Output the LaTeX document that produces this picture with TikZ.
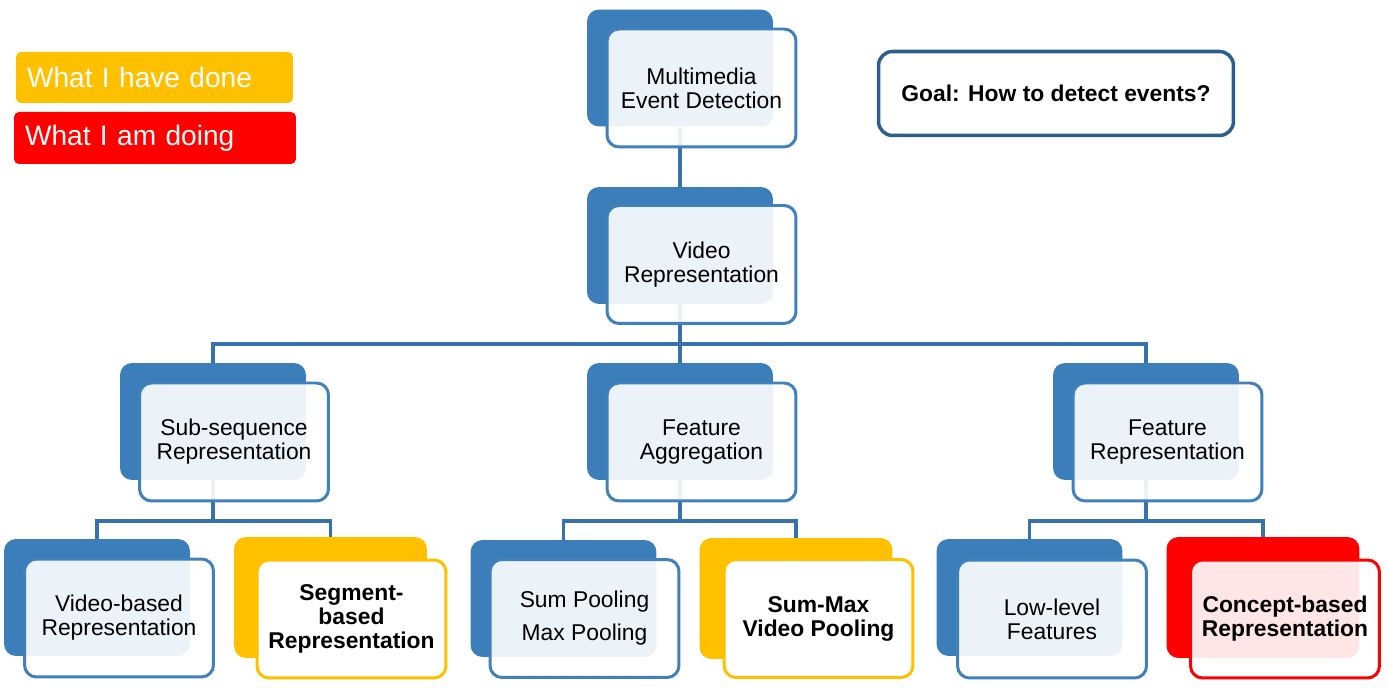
\documentclass[tikz,border=0pt]{standalone}
\usepackage{fontspec}
\setmainfont{Liberation Sans}
\usetikzlibrary{backgrounds}

\definecolor{boxblue}{RGB}{60,126,186}
\definecolor{edgeblue}{RGB}{64,128,187}
\definecolor{linkblue}{RGB}{56,114,170}
\definecolor{goalblue}{RGB}{46,95,140}
\definecolor{doneorange}{RGB}{255,192,0}
\definecolor{doingred}{RGB}{255,0,0}

\tikzset{
  backbox/.style={fill=boxblue, rounded corners=0.24cm, minimum width=3.72cm, minimum height=2.34cm},
  backwide/.style={rounded corners=0.24cm, minimum width=3.86cm, minimum height=2.42cm},
  frontbox/.style={draw=edgeblue, line width=1.7pt, fill=white, fill opacity=0.9, text opacity=1,
    rounded corners=0.24cm, minimum width=3.78cm, minimum height=2.36cm, align=center},
  legend/.style={rounded corners=0.1cm, inner xsep=0.22cm, align=left, text=white,
    font=\fontsize{16pt}{18pt}\selectfont},
  link/.style={draw=linkblue, line width=2.2pt},
}

\begin{document}
\begin{tikzpicture}[x=0.02cm, y=-0.02cm, font=\fontsize{13pt}{13.7pt}\selectfont]
\useasboundingbox (0,0) rectangle (1387,688);

% legend
\node[legend, fill=doneorange, text width=5.1cm, minimum height=1.02cm] (done) at (154.5,77.5) {What I have done};
\node[legend, fill=doingred, text width=5.2cm, minimum height=1.04cm] (doing) at (155,138) {What I am doing};

% goal
\node[draw=goalblue, line width=2pt, rounded corners=0.28cm, minimum width=7.1cm, minimum height=1.68cm,
  font=\fontsize{13pt}{14pt}\selectfont\bfseries] (goal) at (1056,93.5) {Goal: How to detect events?};

% level 0 and 1
\node[backbox] (med-b) at (680,68) {};
\node[frontbox] (med) at (701.5,88) {Multimedia\\Event Detection};
\node[backbox] (vid-b) at (680,245.5) {};
\node[frontbox] (vid) at (701.5,264.5) {Video\\Representation};

% level 2
\node[backbox] (sub-b) at (213,421.5) {};
\node[frontbox] (sub) at (234,442) {Sub-sequence\\Representation};
\node[backbox] (agg-b) at (680,421.5) {};
\node[frontbox] (agg) at (701.5,442) {Feature\\Aggregation};
\node[backbox] (rep-b) at (1146,421.5) {};
\node[frontbox] (rep) at (1167.5,442) {Feature\\Representation};

% level 3
\node[backbox] (vbr-b) at (97,597.5) {};
\node[frontbox] (vbr) at (119,618) {Video-based\\Representation};
\node[backwide, fill=doneorange] (seg-b) at (330.5,597.5) {};
\node[frontbox, draw=doneorange, fill opacity=1, font=\fontsize{13pt}{13.7pt}\selectfont\bfseries] (seg) at (351.5,619) {Segment-\\based\\Representation};
\node[backbox] (sump-b) at (563.5,598.5) {};
\node[frontbox, font=\fontsize{13pt}{18.8pt}\selectfont] (sump) at (584.5,618.5) {Sum Pooling\\Max Pooling};
\node[backwide, fill=doneorange] (smax-b) at (796,598.5) {};
\node[frontbox, draw=doneorange, fill opacity=1, font=\fontsize{13pt}{13.7pt}\selectfont\bfseries] (smax) at (818.5,618.5) {Sum-Max\\Video Pooling};
\node[backbox] (low-b) at (1029.5,597.5) {};
\node[frontbox] (low) at (1052,619) {Low-level\\Features};
\node[backwide, fill=doingred] (con-b) at (1263,597.5) {};
\node[frontbox, draw=doingred, font=\fontsize{13pt}{13.7pt}\selectfont\bfseries] (con) at (1285,619) {Concept-based\\Representation};

% connectors
\coordinate (bar1) at (0,344);
\coordinate (bar2) at (0,521);
\begin{pgfonlayer}{background}
\draw[link] (med-b.south) -- (vid-b.north);
\draw[link] (vid-b.south) -- (agg-b.north);
\draw[link] (sub-b.north) |- (bar1 -| rep-b.north) -- (rep-b.north);
\foreach \parent/\left/\right in {sub/vbr/seg, agg/sump/smax, rep/low/con} {
  \draw[link] (\parent-b.south) -- (\parent-b.south |- bar2);
  \draw[link] (\left-b.north) |- (bar2 -| \right-b.north) -- (\right-b.north);
}
\end{pgfonlayer}
\end{tikzpicture}
\end{document}
